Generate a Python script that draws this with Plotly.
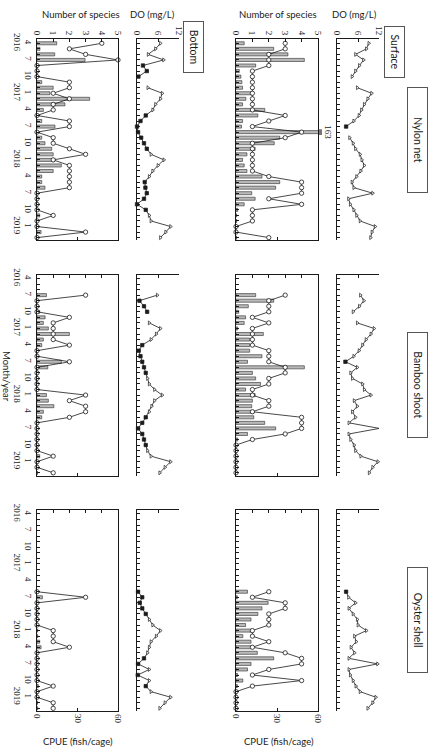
import plotly.graph_objects as go

# ---------------- data (monthly, Apr 2016 .. Mar 2019) ----------------
START_YEAR, START_MONTH, N_MONTHS = 2016, 4, 36
month_index = list(range(N_MONTHS))
month_of = [((START_MONTH - 1 + k) % 12) + 1 for k in month_index]
year_of = [START_YEAR + (START_MONTH - 1 + k) // 12 for k in month_index]

columns = ["Nylon net", "Bamboo shoot", "Oyster shell"]
layers = ["Surface", "Bottom"]
N = None

# Number of species
species_surface_nylon = [3, 3, 2, 2, 2, 1, 1, 1, 1, 1, 1, 1, 1, 3, 2, 1, 4, 3, 1, 1, 1, 1, 1, 1, 2, 4, 4, 4, 2, 4, 1, 1, 1, 0, 0, 2]
species_surface_bamboo = [N, N, N, 3, 2, 2, 2, 1, 2, 1, 1, 1, 1, 2, 2, 2, 3, 3, 2, 2, 1, 1, 2, 2, 1, 4, 4, 4, 3, 1, 0, 0, 0, 0, 0, 0]
species_surface_oyster = [N] * 14 + [2, 1, 3, 3, 2, 2, 2, 1, 1, 2, 1, 3, 4, 4, 2, 1, 4, 1, 0, 0, 0, 0]
species_bottom_nylon = [4, 2, 3, 5, 0, 0, 0, 2, 2, 1, 2, 1, 1, 0, 2, 2, 0, 1, 1, 2, 3, 1, 2, 2, 2, 2, 2, 0, 0, 0, 0, 1, 0, 0, 3, 0]
species_bottom_bamboo = [N, N, N, 3, 0, 0, 0, 2, 1, 1, 1, 1, 2, 0, 0, 2, 0, 0, 0, 0, 0, 3, 2, 3, 3, 2, 0, 0, 0, 0, 0, 0, 1, 0, 0, 1]
species_bottom_oyster = [N] * 14 + [0, 3, 0, 0, 0, 0, 0, 1, 1, 1, 2, 0, 0, 0, 0, 0, 0, 1, 0, 0, 1, 1]

# CPUE (fish/cage)
cpue_surface_nylon = [6, 27.6, 38, 50, 14.4, 2.4, 3.6, 4.3, 4.8, 12, 7.2, 4.8, 21, 16, 4.8, 4, 163, 32, 28, 14, 8, 4.8, 6, 8, 19, 32, 29, 11.5, 14, 6, 1.2, 0.5, 0.5, 0.3, 0, 0.5]
cpue_surface_bamboo = [N, N, N, 14.4, 27.6, 9, 2, 7, 6, 1.2, 20, 10, 10, 10, 19, 8.4, 50, 12, 14.4, 18, 7, 14, 12, 11.5, 13, 13, 21, 29, 8.4, 1.2, 0.5, 0.3, 0.3, 0.3, 0.3, 0.3]
cpue_surface_oyster = [N] * 14 + [8.4, 1, 23.5, 19, 16, 11, 7, 11, 5, 11, 11, 15.6, 27.6, 11, 8.4, 1.2, 5, 1, 0.3, 0.3, 0.3, 0.3]
cpue_bottom_nylon = [14.6, 2.2, 13.1, 35.6, 0, 0, 0, 3.5, 12, 9.6, 39, 20.7, 4.7, 0, 3.5, 13.3, 0, 3.5, 5.9, 10.9, 12, 13.3, 18, 12, 3.5, 3.5, 5.9, 0, 0, 0, 0, 2, 0, 0, 3, 0.5]
cpue_bottom_bamboo = [N, N, N, 7, 0, 0, 2, 6, 4.7, 8.4, 24, 4.7, 3.5, 0, 0, 18, 8, 0, 0, 0, 0, 7, 8.4, 12.5, 4.7, 3.5, 0, 0, 0, 0, 0, 0, 2, 0, 0, 0.5]
cpue_bottom_oyster = [N] * 14 + [0, 4, 0, 0, 0, 0, 0, 0.5, 0.5, 2, 3, 0, 0, 0, 0, 0, 0, 1, 0, 0, 0.5, 0.5]

# Dissolved oxygen (mg/L)
do_surface_nylon = [9.1, 8.4, 5.3, 7.6, 6.4, 5.3, 4.3, N, 5.8, 9.9, 8.8, 7.8, 7.0, 6.3, 4.8, 2.6, N, 3.6, 4.6, 5.3, 6.6, 7.1, 7.8, 6.8, 5.6, 4.3, 4.8, 10.2, 3.3, 3.8, 4.8, 5.6, 6.6, 10.9, 10.0, 9.6]
do_surface_bamboo = [N, N, N, 6.7, 7.7, 6.4, 4.6, N, 5.8, 10.6, 9.7, 8.3, 7.3, 6.3, 4.8, 2.4, 5.8, 3.9, 4.4, 7.3, 7.8, 9.7, 4.9, 5.8, 4.4, 5.3, 3.4, 12.1, 3.4, 3.9, 4.9, 5.3, 6.8, 11.7, 10.2, 9.2]
do_surface_oyster = [N] * 14 + [2.6, 3.3, 5.3, 3.4, 4.6, 5.8, 6.0, 8.4, 5.0, 5.5, 4.0, 5.0, 3.4, 11.6, 3.4, 3.8, 4.6, 5.4, 6.6, 11.1, 10.2, 8.8]
do_bottom_nylon = [6.7, 5.3, 3.2, 7.6, 1.7, 2.8, 0.4, N, 3.1, 7.2, 6.7, 5.3, 4.5, 2.5, 1.0, 0.0, 0.3, 1.2, 2.0, 2.8, 4.0, 7.7, 6.0, 4.5, 3.5, 2.2, 2.4, 2.8, 2.0, 0.0, 2.5, 3.5, 4.0, 9.6, 8.2, 6.7]
do_bottom_bamboo = [N, N, N, 5.8, 0.7, 2.0, 2.9, N, 3.5, 6.7, 5.5, 4.0, 1.5, 0.5, 1.0, 1.5, 2.0, 2.5, 3.0, 3.5, 5.0, 7.2, 5.0, 4.2, 3.5, 2.5, 1.5, 0.3, 1.5, 2.0, 2.5, 3.0, 4.0, 9.6, 8.0, 6.5]
do_bottom_oyster = [N] * 14 + [0.3, 1.5, 0.8, 1.5, 2.5, 3.5, 4.5, 6.7, 5.5, 4.0, 3.5, 3.0, 2.0, 0.3, 3.5, 0.2, 3.5, 2.5, 4.0, 9.6, 8.0, 6.5]

species_ticks = [0, 1, 2, 3, 4, 5]
cpue_ticks = [0, 30, 60]
do_ticks = [0, 6, 12]

data = {
    ("Surface", "Nylon net"): (species_surface_nylon, cpue_surface_nylon, do_surface_nylon),
    ("Surface", "Bamboo shoot"): (species_surface_bamboo, cpue_surface_bamboo, do_surface_bamboo),
    ("Surface", "Oyster shell"): (species_surface_oyster, cpue_surface_oyster, do_surface_oyster),
    ("Bottom", "Nylon net"): (species_bottom_nylon, cpue_bottom_nylon, do_bottom_nylon),
    ("Bottom", "Bamboo shoot"): (species_bottom_bamboo, cpue_bottom_bamboo, do_bottom_bamboo),
    ("Bottom", "Oyster shell"): (species_bottom_oyster, cpue_bottom_oyster, do_bottom_oyster),
}

# ---------------- styling / geometry ----------------
W, H = 437, 755
HYPOXIA = 3.0
def px(x):
    return x / W
def py(y):
    return 1 - y / H

col_top = [39.4, 274.6, 510.1]
col_h = 201.0
time_range = [35.5, -0.7]
panel_x = {"Bottom": {"sp": (37, 118), "do": (137, 179)},
           "Surface": {"sp": (236, 318), "do": (337, 379)}}

SERIF = "Liberation Serif"
SANS = "Lato"
INK = "#1a1a1a"
tickfont = dict(family=SERIF, size=9, color=INK)

time_text = []
for k in month_index:
    if k % 3 == 0:
        m = month_of[k]
        time_text.append(f"{m}<br>{year_of[k]}" if (k == 0 or m == 1) else str(m))
    else:
        time_text.append("")

fig = go.Figure()
layout = dict(width=W, height=H, margin=dict(l=0, r=0, t=0, b=0),
              paper_bgcolor="white", plot_bgcolor="white", showlegend=False,
              template="none", annotations=[], shapes=[])
cnt = {"x": 0, "y": 0}
def new_axis(kind):
    cnt[kind] += 1
    n = cnt[kind]
    ref = kind if n == 1 else f"{kind}{n}"
    key = f"{kind}axis" if n == 1 else f"{kind}axis{n}"
    return ref, key

def base_axis(**kw):
    d = dict(showgrid=False, zeroline=False, showline=True, linecolor=INK, linewidth=1,
             ticks="inside", ticklen=3, tickcolor=INK, tickwidth=1, tickfont=tickfont,
             automargin=False, fixedrange=True)
    d.update(kw)
    return d

for ci, col in enumerate(columns):
    y_dom = [py(col_top[ci] + col_h), py(col_top[ci])]
    for layer in layers:
        species, cpue, do = data[(layer, col)]
        # ---- species / CPUE panel ----
        x0, x1 = panel_x[layer]["sp"]
        yref, ykey = new_axis("y")
        xc_ref, xc_key = new_axis("x")
        xs_ref, xs_key = new_axis("x")
        layout[ykey] = base_axis(domain=y_dom, range=time_range, anchor=xc_ref, side="left",
                                 mirror=True, tickvals=month_index, ticktext=time_text,
                                 showticklabels=(layer == "Bottom"), tickangle=90, ticklen=2.5)
        layout[xc_key] = base_axis(domain=[px(x0), px(x1)], range=[0, 60], anchor=yref, side="bottom",
                                   tickvals=cpue_ticks, showticklabels=(ci == 2), tickangle=90)
        layout[xs_key] = base_axis(range=[0, 5], anchor=yref, side="top", overlaying=xc_ref,
                                   tickvals=species_ticks, showticklabels=(ci == 0), tickangle=90)
        fig.add_trace(go.Bar(x=cpue, y=month_index, orientation="h", xaxis=xc_ref, yaxis=yref,
                             width=0.55, marker=dict(color="#b9b9b9", line=dict(color="#2a2a2a", width=0.6))))
        fig.add_trace(go.Scatter(x=species, y=month_index, xaxis=xs_ref, yaxis=yref, mode="lines+markers",
                                 cliponaxis=False, connectgaps=False,
                                 line=dict(color=INK, width=0.8),
                                 marker=dict(symbol="circle", size=4.3, color="white",
                                             line=dict(color=INK, width=0.8))))
        # off-scale bar label
        for k, v in enumerate(cpue):
            if v is not None and v > 60:
                layout["annotations"].append(dict(x=60, y=k, xref=xc_ref, yref=yref, text=str(v),
                                                  showarrow=False, textangle=90, xshift=10,
                                                  font=dict(family=SERIF, size=9, color=INK)))
                for dx in (1.0, 3.0):
                    layout["shapes"].append(dict(type="line", xref="paper", yref=yref,
                                                 x0=px(x1 + dx), x1=px(x1 + dx), y0=k - 0.5, y1=k + 0.5,
                                                 line=dict(color=INK, width=1.2)))
        # ---- DO panel ----
        d0, d1 = panel_x[layer]["do"]
        yref2, ykey2 = new_axis("y")
        xd_ref, xd_key = new_axis("x")
        layout[ykey2] = base_axis(domain=y_dom, range=time_range, anchor=xd_ref, side="left",
                                  tickvals=month_index, showticklabels=False, ticklen=2.5)
        layout[xd_key] = base_axis(domain=[px(d0), px(d1)], range=[0, 12], anchor=yref2, side="top",
                                   tickvals=do_ticks, showticklabels=(ci == 0), tickangle=90)
        symbols = ["square" if (v is not None and v < HYPOXIA) else "triangle-right" for v in do]
        fills = [INK if (v is not None and v < HYPOXIA) else "white" for v in do]
        fig.add_trace(go.Scatter(x=do, y=month_index, xaxis=xd_ref, yaxis=yref2, mode="lines+markers",
                                 cliponaxis=False, connectgaps=False,
                                 line=dict(color=INK, width=0.8),
                                 marker=dict(symbol=symbols, size=3.4, color=fills,
                                             line=dict(color=INK, width=0.7))))

# ---------------- text ----------------
def ann(text, x, y, angle=0, size=9.5, box=None, family=SANS):
    a = dict(text=text, x=px(x), y=py(y), xref="paper", yref="paper", showarrow=False,
             textangle=angle, font=dict(family=family, size=size, color=INK),
             xanchor="center", yanchor="middle")
    if box:
        a.update(bordercolor="#555", borderwidth=1, borderpad=2, width=box[0], height=box[1],
                 bgcolor="white")
    layout["annotations"].append(a)

ann("Number of species", 81, 15)
ann("Number of species", 277.5, 14)
ann("DO (mg/L)", 152, 14)
ann("DO (mg/L)", 354, 14)
ann("CPUE (fish/cage)", 78, 741)
ann("CPUE (fish/cage)", 279, 741)
ann("Bottom", 193, 47, angle=90, size=10.5, box=(46, 15))
ann("Surface", 395, 52, angle=90, size=10.5, box=(46, 15))
ann("Nylon net", 418, 140, angle=90, size=10.5, box=(100, 15))
ann("Bamboo shoot", 418, 385, angle=90, size=10.5, box=(100, 15))
ann("Oyster shell", 418, 620, angle=90, size=10.5, box=(100, 15))
ann("Month/year", 6, 376, angle=90, size=9.5)

fig.update_layout(**layout)
fig.write_html("out.html")
